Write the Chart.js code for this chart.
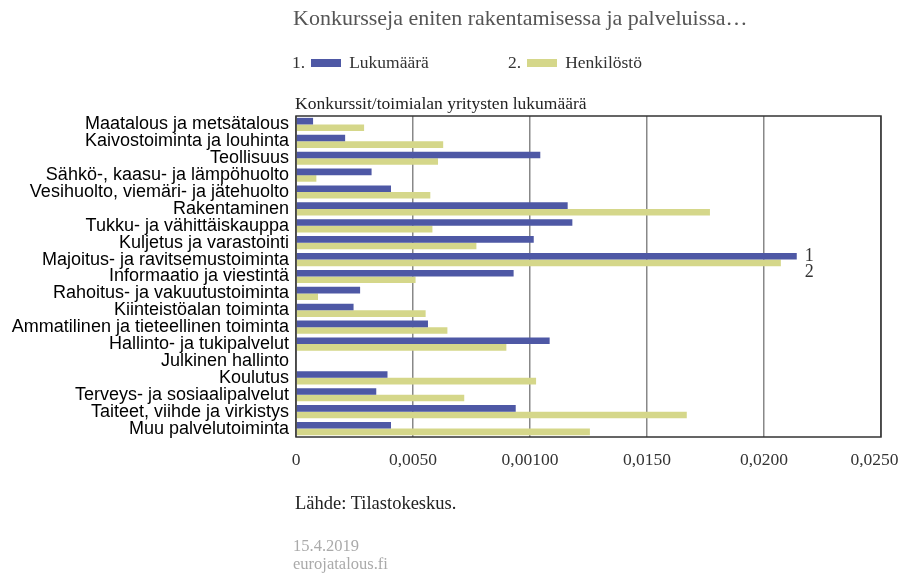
<!DOCTYPE html>
<html lang="fi">
<head>
<meta charset="utf-8">
<title>Konkursseja eniten rakentamisessa ja palveluissa</title>
<script src="https://cdn.jsdelivr.net/npm/chart.js@4/dist/chart.umd.min.js"></script>
<style>
  body { margin: 0; background: #fff; font-family: "Liberation Serif", "Times New Roman", serif; }
  #wrap { position: relative; width: 904px; height: 579px; overflow: hidden; }
  #chart { position: absolute; left: 0; top: 0; }
  .txt { position: absolute; white-space: nowrap; line-height: normal; }
  #title { left: 293px; top: 5px; font-size: 22px; color: #555; }
  .leg { top: 52px; font-size: 17.5px; color: #333; }
  .leg .box { display: inline-block; width: 30px; height: 8.5px; margin: 0 8px 0 6px; vertical-align: 1px; }
  #sub { left: 295px; top: 93px; font-size: 17.5px; color: #222; }
  #source { left: 295px; top: 493px; font-size: 18.5px; color: #222; }
  #date { left: 293px; top: 537px; font-size: 16.5px; color: #aaa; line-height: 18px; }
</style>
</head>
<body>
<div id="wrap">
  <canvas id="chart" width="904" height="579"></canvas>
  <div class="txt" id="title">Konkursseja eniten rakentamisessa ja palveluissa…</div>
  <div class="txt leg" style="left:292px">1.<span class="box" style="background:#4e58a5"></span>Lukumäärä</div>
  <div class="txt leg" style="left:508px">2.<span class="box" style="background:#d5d78a"></span>Henkilöstö</div>
  <div class="txt" id="sub">Konkurssit/toimialan yritysten lukumäärä</div>
  <div class="txt" id="source">Lähde: Tilastokeskus.</div>
  <div class="txt" id="date">15.4.2019<br>eurojatalous.fi</div>
</div>

<script>
// toimialat, ylhäältä alas
const categories = [
  "Maatalous ja metsätalous",
  "Kaivostoiminta ja louhinta",
  "Teollisuus",
  "Sähkö-, kaasu- ja lämpöhuolto",
  "Vesihuolto, viemäri- ja jätehuolto",
  "Rakentaminen",
  "Tukku- ja vähittäiskauppa",
  "Kuljetus ja varastointi",
  "Majoitus- ja ravitsemustoiminta",
  "Informaatio ja viestintä",
  "Rahoitus- ja vakuutustoiminta",
  "Kiinteistöalan toiminta",
  "Ammatilinen ja tieteellinen toiminta",
  "Hallinto- ja tukipalvelut",
  "Julkinen hallinto",
  "Koulutus",
  "Terveys- ja sosiaalipalvelut",
  "Taiteet, viihde ja virkistys",
  "Muu palvelutoiminta"
];

// 1. konkurssien lukumäärä suhteessa yritysten lukumäärään
const lukumaara = [
  0.00073, 0.00210, 0.01044, 0.00323, 0.00406, 0.01161, 0.01181, 0.01016, 0.02140, 0.00930,
  0.00274, 0.00246, 0.00564, 0.01084, 0, 0.00391, 0.00343, 0.00939, 0.00406
];

// 2. konkurssien henkilöstö
const henkilosto = [
  0.00291, 0.00629, 0.00607, 0.00087, 0.00574, 0.01769, 0.00583, 0.00771, 0.02072, 0.00511,
  0.00094, 0.00554, 0.00647, 0.00899, 0, 0.01026, 0.00719, 0.01670, 0.01256
];

const seriesNames = ["Lukumäärä", "Henkilöstö"];
const barColors = ["#4e58a5", "#d5d78a"];

// x-akselin jaot ja niiden tekstit
const tickValues = [0, 0.005, 0.010, 0.015, 0.020, 0.025];
const tickLabels = ["0", "0,0050", "0,00100", "0,0150", "0,0200", "0,0250"];

// kehys kuvaajan ympärille ja sarjojen numerot pisimmän palkin perään
const framePlugin = {
  id: 'frame',
  afterDatasetsDraw(chart) {
    const ctx = chart.ctx;
    const a = chart.chartArea;
    ctx.save();
    ctx.strokeStyle = '#333';
    ctx.lineWidth = 1.5;
    ctx.strokeRect(a.left, a.top, a.right - a.left, a.bottom - a.top);

    // pisin palkki
    const top = lukumaara.indexOf(Math.max(...lukumaara));
    const m0 = chart.getDatasetMeta(0).data[top];
    const m1 = chart.getDatasetMeta(1).data[top];
    const x = Math.max(m0.x, m1.x) + 8;
    ctx.fillStyle = '#333';
    ctx.font = '18px "Liberation Serif", serif';
    ctx.textBaseline = 'middle';
    ctx.textAlign = 'left';
    ctx.fillText('1', x, m0.y);
    ctx.fillText('2', x, m0.y + 16);
    ctx.restore();
  }
};

new Chart(document.getElementById('chart'), {
  type: 'bar',
  data: {
    labels: categories,
    datasets: [
      { label: seriesNames[0], data: lukumaara, backgroundColor: barColors[0] },
      { label: seriesNames[1], data: henkilosto, backgroundColor: barColors[1] }
    ]
  },
  options: {
    indexAxis: 'y',
    responsive: false,
    animation: false,
    layout: { padding: { left: 0, top: 116, right: 23, bottom: 112 } },
    datasets: { bar: { barPercentage: 1, categoryPercentage: 0.78 } },
    plugins: {
      legend: { display: false },
      title: { display: false },
      tooltip: { enabled: false }
    },
    scales: {
      x: {
        min: 0,
        max: 0.025,
        afterBuildTicks: (scale) => { scale.ticks = tickValues.map(v => ({ value: v })); },
        afterFit: (scale) => {
          scale.height = 30;
          scale.paddingLeft = 0;
          scale.paddingRight = 0;
        },
        ticks: {
          autoSkip: false,
          maxRotation: 0,
          padding: 13,
          color: '#333',
          font: { family: '"Liberation Serif", serif', size: 17.5 },
          // viimeinen teksti hieman vasemmalle, ettei se leikkaudu reunasta
          callback: (val, i) => i === tickLabels.length - 1 ? tickLabels[i] + '\u2002 ' : tickLabels[i]
        },
        grid: { color: '#888', lineWidth: 1.5, drawTicks: false },
        border: { display: false }
      },
      y: {
        afterFit: (scale) => {
          scale.width = 296;
          scale.paddingTop = 0;
          scale.paddingBottom = 0;
        },
        ticks: {
          autoSkip: false,
          padding: 7,
          color: '#000',
          font: { family: '"Liberation Sans", Arial, sans-serif', size: 18 }
        },
        grid: { display: false, drawTicks: false },
        border: { display: false }
      }
    }
  },
  plugins: [framePlugin]
});
</script>
</body>
</html>
